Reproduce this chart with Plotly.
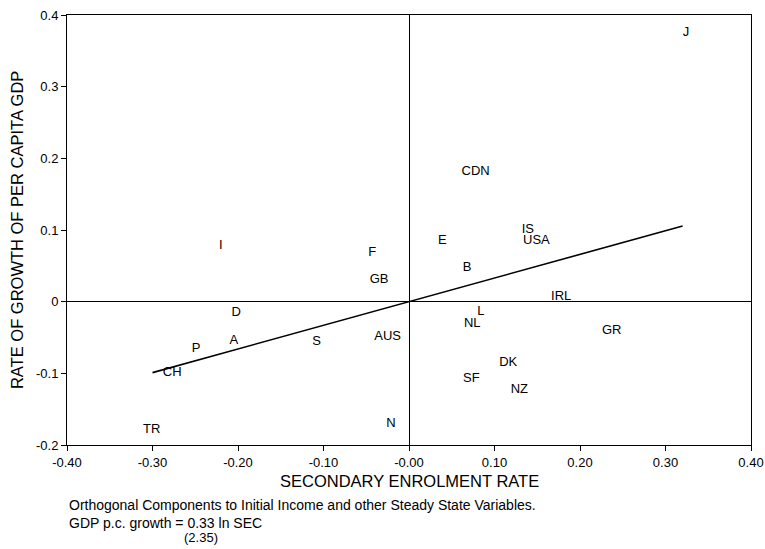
import plotly.graph_objects as go

countries = ["J", "CDN", "IS", "USA", "E", "B", "IRL", "L", "NL", "GR", "DK", "SF", "NZ", "N", "TR",
             "I", "F", "GB", "D", "A", "P", "S", "AUS", "CH"]
sec = [0.324, 0.078, 0.139, 0.149, 0.039, 0.068, 0.178, 0.084, 0.074, 0.237, 0.116, 0.073, 0.129, -0.021, -0.301,
       -0.220, -0.043, -0.035, -0.202, -0.205, -0.249, -0.108, -0.025, -0.277]
growth = [0.375, 0.181, 0.100, 0.085, 0.085, 0.047, 0.007, -0.014, -0.031, -0.040, -0.085, -0.107, -0.123, -0.170, -0.179,
          0.078, 0.068, 0.031, -0.015, -0.054, -0.066, -0.056, -0.049, -0.099]

fit_x = [-0.30, 0.32]
slope = 0.33
fit_y = [slope * v for v in fit_x]

x_ticks = [-0.4, -0.3, -0.2, -0.1, 0.0, 0.1, 0.2, 0.3, 0.4]
x_ticktext = ["-0.40", "-0.30", "-0.20", "-0.10", "-0.00", "0.10", "0.20", "0.30", "0.40"]
y_ticks = [-0.2, -0.1, 0.0, 0.1, 0.2, 0.3, 0.4]
y_ticktext = ["-0.2", "-0.1", "0", "0.1", "0.2", "0.3", "0.4"]

font = "Liberation Sans, Arial, sans-serif"

fig = go.Figure()
fig.add_trace(go.Scatter(x=fit_x, y=fit_y, mode="lines", line=dict(color="black", width=1.6),
                         hoverinfo="skip", showlegend=False))
fig.add_trace(go.Scatter(x=sec, y=growth, mode="text", text=countries,
                         textfont=dict(family=font, size=13, color="black"),
                         textposition="middle center", showlegend=False))

fig.update_layout(
    width=765, height=549,
    margin=dict(l=67, r=14, t=15, b=104),
    paper_bgcolor="white", plot_bgcolor="white",
    font=dict(family=font, color="black"),
    xaxis=dict(range=[-0.4, 0.4], tickvals=x_ticks, ticktext=x_ticktext, ticks="outside", ticklen=5,
               tickcolor="black", showline=True, linecolor="black", linewidth=1, mirror=True,
               showgrid=False, zeroline=True, zerolinecolor="black", zerolinewidth=1,
               tickfont=dict(size=13), automargin=False),
    yaxis=dict(range=[-0.2, 0.4], tickvals=y_ticks, ticktext=y_ticktext, ticks="outside", ticklen=5,
               tickcolor="black", showline=True, linecolor="black", linewidth=1, mirror=True,
               showgrid=False, zeroline=True, zerolinecolor="black", zerolinewidth=1,
               tickfont=dict(size=13), automargin=False),
    annotations=[
        dict(text="SECONDARY ENROLMENT RATE", xref="paper", yref="paper", x=0.5, y=-0.084,
             xanchor="center", yanchor="middle", showarrow=False, font=dict(size=16.5)),
        dict(text="RATE OF GROWTH OF PER CAPITA GDP", xref="paper", yref="paper", x=-0.073, y=0.5,
             xanchor="center", yanchor="middle", textangle=-90, showarrow=False, font=dict(size=16.5)),
        dict(text="Orthogonal Components to Initial Income and other Steady State Variables.",
             xref="paper", yref="paper", x=0.0, y=-0.1395, xanchor="left", yanchor="middle",
             showarrow=False, font=dict(size=14)),
        dict(text="GDP p.c. growth = 0.33 ln SEC", xref="paper", yref="paper", x=0.0, y=-0.181,
             xanchor="left", yanchor="middle", showarrow=False, font=dict(size=14)),
        dict(text="(2.35)", xref="paper", yref="paper", x=0.196, y=-0.214,
             xanchor="center", yanchor="middle", showarrow=False, font=dict(size=13)),
    ],
)

fig.write_html("out.html")
